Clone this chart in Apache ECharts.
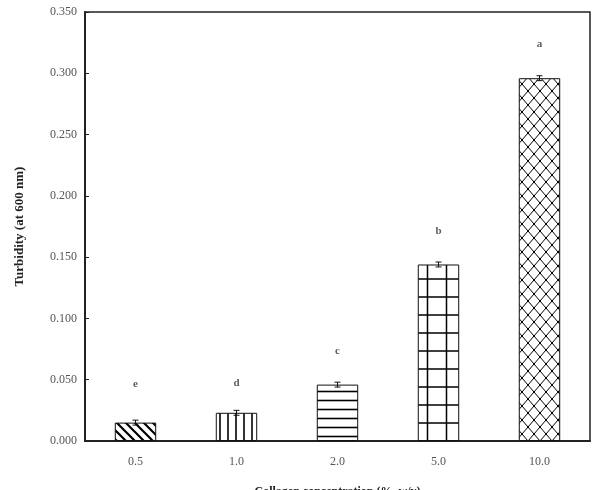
<!DOCTYPE html>
<html>
<head>
<meta charset="utf-8">
<script src="https://cdn.jsdelivr.net/npm/echarts@6/dist/echarts.min.js"></script>
<style>
  html, body { margin: 0; padding: 0; background: #fff; }
  #chart { width: 593px; height: 490px; }
</style>
</head>
<body>
<div id="chart"></div>
<script>
// 数据
var categories = ["0.5", "1.0", "2.0", "5.0", "10.0"];
var turbidity = [0.015, 0.023, 0.046, 0.144, 0.296];
var errors = [0.002, 0.002, 0.002, 0.002, 0.002];
var letters = ["e", "d", "c", "b", "a"];
var letterPos = [0.046, 0.047, 0.073, 0.171, 0.324];

// 填充图案
function makePattern(w, h, draw) {
    var c = document.createElement("canvas");
    c.width = w; c.height = h;
    var ctx = c.getContext("2d");
    ctx.fillStyle = "#fff";
    ctx.fillRect(0, 0, w, h);
    ctx.strokeStyle = "#000";
    ctx.fillStyle = "#000";
    draw(ctx);
    return { image: c, repeat: "repeat" };
}

var patterns = [
    makePattern(9, 9, function (ctx) {
        ctx.lineWidth = 2.2;
        ctx.beginPath();
        ctx.moveTo(-1, -1); ctx.lineTo(10, 10);
        ctx.moveTo(-1, 8); ctx.lineTo(1, 10);
        ctx.moveTo(8, -1); ctx.lineTo(10, 1);
        ctx.stroke();
    }),
    makePattern(8, 8, function (ctx) {
        ctx.lineWidth = 1.6;
        ctx.beginPath();
        ctx.moveTo(4, 0); ctx.lineTo(4, 8);
        ctx.stroke();
    }),
    makePattern(8, 9, function (ctx) {
        ctx.lineWidth = 1.6;
        ctx.beginPath();
        ctx.moveTo(0, 4.5); ctx.lineTo(8, 4.5);
        ctx.stroke();
    }),
    makePattern(19, 18, function (ctx) {
        ctx.lineWidth = 1.5;
        ctx.beginPath();
        ctx.moveTo(0, 9); ctx.lineTo(19, 9);
        ctx.moveTo(9.5, 0); ctx.lineTo(9.5, 18);
        ctx.stroke();
    }),
    makePattern(12, 14, function (ctx) {
        ctx.lineWidth = 1;
        ctx.beginPath();
        ctx.moveTo(0, 7); ctx.lineTo(6, 0); ctx.lineTo(12, 7); ctx.lineTo(6, 14); ctx.closePath();
        ctx.stroke();
        ctx.fillRect(5, -1, 2, 2); ctx.fillRect(-1, 6, 2, 2);
        ctx.fillRect(11, 6, 2, 2); ctx.fillRect(5, 13, 2, 2);
    })
];

var barData = turbidity.map(function (v, i) {
    return { value: v, itemStyle: { color: patterns[i] } };
});

var errData = turbidity.map(function (v, i) {
    return [i, v, errors[i]];
});

var letterData = letters.map(function (t, i) {
    return [i, letterPos[i], t];
});

var serif = "'Liberation Serif', 'DejaVu Serif', serif";

var myChart = echarts.init(document.getElementById("chart"));
var option = {
    animation: false,
    grid: {
        left: 85, top: 12, right: 3, bottom: 49,
        outerBoundsMode: "none",
        containLabel: false,
        show: true,
        borderColor: "#222",
        borderWidth: 1.5
    },
    xAxis: {
        type: "category",
        data: categories,
        name: "Collagen concentration (%, w/v)",
        nameLocation: "middle",
        nameGap: 45,
        nameTextStyle: { fontFamily: serif, fontSize: 12, fontWeight: "bold", color: "#222" },
        axisLine: { lineStyle: { color: "#222", width: 2 } },
        axisTick: { inside: true, length: 4, lineStyle: { color: "#222" } },
        axisLabel: { fontFamily: serif, fontSize: 12, color: "#555", margin: 15 }
    },
    yAxis: {
        type: "value",
        min: 0,
        max: 0.35,
        interval: 0.05,
        name: "Turbidity (at 600 nm)",
        nameLocation: "middle",
        nameGap: 59,
        nameTextStyle: { fontFamily: serif, fontSize: 13, fontWeight: "bold", color: "#222" },
        axisLine: { show: true, lineStyle: { color: "#222", width: 2 } },
        axisTick: { show: true, inside: true, length: 4, lineStyle: { color: "#222" } },
        splitLine: { show: false },
        axisLabel: {
            fontFamily: serif, fontSize: 12, color: "#555", margin: 8,
            formatter: function (v) { return v.toFixed(3); }
        }
    },
    series: [
        {
            name: "Turbidity",
            type: "bar",
            barWidth: "41%",
            data: barData,
            itemStyle: { borderColor: "#111", borderWidth: 1 }
        },
        {
            type: "custom",
            data: errData,
            z: 5,
            renderItem: function (params, api) {
                var i = api.value(0), v = api.value(1), e = api.value(2);
                var hi = api.coord([i, v + e]);
                var lo = api.coord([i, v - e]);
                var cw = 3;
                var st = { stroke: "#111", lineWidth: 1 };
                return {
                    type: "group",
                    children: [
                        { type: "line", shape: { x1: hi[0], y1: hi[1], x2: lo[0], y2: lo[1] }, style: st },
                        { type: "line", shape: { x1: hi[0] - cw, y1: hi[1], x2: hi[0] + cw, y2: hi[1] }, style: st },
                        { type: "line", shape: { x1: lo[0] - cw, y1: lo[1], x2: lo[0] + cw, y2: lo[1] }, style: st }
                    ]
                };
            }
        },
        {
            type: "scatter",
            data: letterData,
            symbolSize: 0,
            label: {
                show: true,
                position: "inside",
                fontFamily: serif,
                fontSize: 11,
                fontWeight: "bold",
                color: "#333",
                formatter: function (p) { return p.data[2]; }
            }
        }
    ]
};
myChart.setOption(option);
window.addEventListener("resize", function () {
    myChart.resize();
});
</script>
</body>
</html>
